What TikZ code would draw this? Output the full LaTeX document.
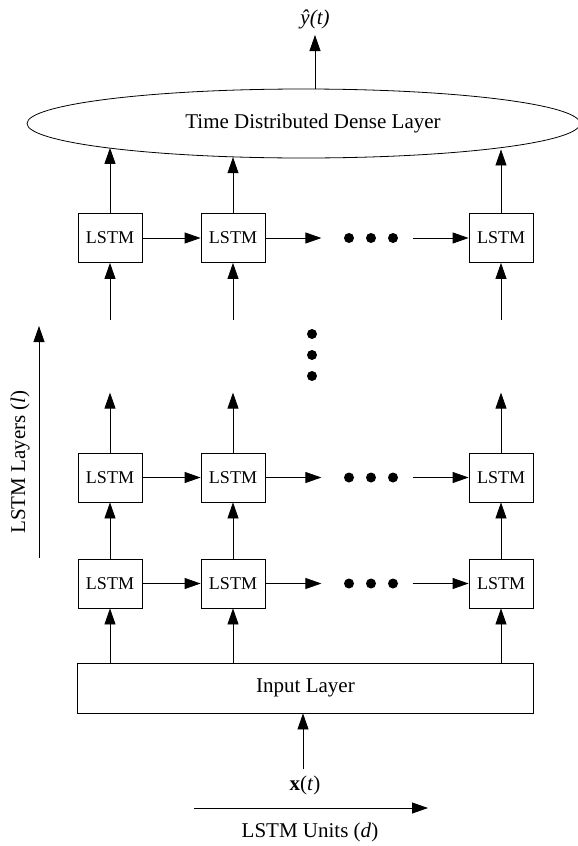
\documentclass[tikz,border=0pt]{standalone}
\usepackage{fontspec}
\setmainfont{Liberation Serif}
\usetikzlibrary{arrows.meta,shapes.geometric,positioning,calc}

\begin{document}
\begin{tikzpicture}[x=1pt,y=-1pt,>={Triangle[length=16pt,width=11pt]},line width=0.8pt,
    cell/.style={draw,minimum width=64pt,minimum height=49pt,inner sep=0pt,font=\fontsize{18}{22}\selectfont},
    lbl/.style={font=\fontsize{21}{25}\selectfont,inner sep=0pt}]

    \useasboundingbox (0,0) rectangle (578,846);

    % output layer
    \node[draw,ellipse,minimum width=553pt,minimum height=69pt,inner sep=0pt] (dense) at (303.5,123.5) {};
    \node[lbl] (denselbl) at (313,123) {Time Distributed Dense Layer};
    \coordinate (yout) at (315,35);
    \draw[->] (yout |- dense.north) -- (yout);
    \node[lbl] (yhat) at (315,19) {\itshape\^{y}(t)};

    % LSTM cells, row 1 is the lowest layer
    \foreach \r/\y in {1/583.5,2/477.5,3/238}{
      \foreach \c/\x in {1/110,2/233,3/501}{
        \node[cell] (c\r\c) at (\x,\y) {LSTM};
      }
      \foreach \x in {349,371,393}{
        \fill (\x,\y) circle (5pt);
      }
      \coordinate (go\r) at ($(c\r2.east)+(56,0)$);
      \coordinate (in\r) at ($(c\r3.west)+(-56,0)$);
      \draw[->] (c\r1) -- (c\r2);
      \draw[->] (c\r2) -- (go\r);
      \draw[->] (in\r) -- (c\r3);
    }

    % vertical dots between the layers
    \foreach \y in {334,355,376}{
      \fill (312,\y) circle (5pt);
    }

    % input layer
    \node[draw,minimum width=456pt,minimum height=50pt,inner sep=0pt,lbl] (inp) at (305.5,688) {Input Layer};
    \coordinate (xin) at (303,769);
    \draw[->] (xin) -- (xin |- inp.south);
    \node[lbl] (xlbl) at (305,785) {\textbf{x}(\textit{t})};

    % columns
    \foreach \c/\a in {1/187.4,2/205.6,3/352.9}{
      \draw[->] (inp.north -| c1\c) -- (c1\c);
      \draw[->] (c1\c) -- (c2\c);
      \draw[->] (c2\c.north) -- ++(0,-60) coordinate (up\c);
      \coordinate (fr\c) at ($(c3\c.south)+(0,57)$);
      \draw[->] (fr\c) -- (c3\c);
      \draw[->] (c3\c) -- (c3\c |- dense.\a);
    }

    % axes
    \coordinate (ua) at (194,808);
    \coordinate (ub) at (428,808);
    \draw[->] (ua) -- (ub);
    \node[lbl] (units) at (310,832) {LSTM Units (\textit{d})};

    \coordinate (la) at (39,558);
    \coordinate (lb) at (39,326);
    \draw[->] (la) -- (lb);
    \node[lbl,rotate=90] (layers) at (20,462) {LSTM Layers (\textit{l})};

\end{tikzpicture}
\end{document}
